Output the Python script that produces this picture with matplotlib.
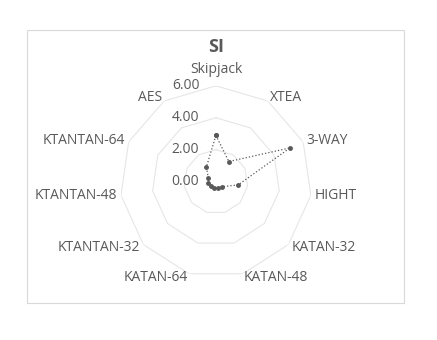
import numpy as np
import matplotlib.pyplot as plt
from matplotlib.patches import Rectangle

categories = ["Skipjack", "XTEA", "3-WAY", "HIGHT", "KATAN-32", "KATAN-48",
              "KATAN-64", "KTANTAN-32", "KTANTAN-48", "KTANTAN-64", "AES"]
si_values = [2.9, 1.5, 5.1, 1.4, 0.48, 0.39, 0.38, 0.43, 0.47, 0.52, 1.1]
ring_values = [2, 4, 6]
tick_values = [0, 2, 4, 6]

plt.rcParams['font.family'] = ['Open Sans', 'DejaVu Sans']
txt = "#595959"

fig = plt.figure(figsize=(4.37, 3.4), dpi=100)
fig.patches.append(Rectangle((27 / 437, 1 - 303 / 340), 377 / 437, 273 / 340,
                             transform=fig.transFigure, fill=False,
                             edgecolor="#d9d9d9", linewidth=0.8))

ax = fig.add_axes([0.2746, 0.183, 0.439, 0.565], projection="polar")
ax.set_theta_offset(np.pi / 2)
ax.set_theta_direction(-1)
ax.set_ylim(0, 6)
ax.grid(False)
ax.spines["polar"].set_visible(False)
ax.set_xticks([])
ax.set_yticks([])
ax.patch.set_alpha(0)

n = len(categories)
angles = np.arange(n) * 2 * np.pi / n
closed = np.append(angles, angles[0])

# polygon gridlines
for r in ring_values:
    ax.plot(closed, [r] * (n + 1), color="#e6e6e6", lw=0.8, zorder=1)

# radial value labels
for v in tick_values:
    ax.annotate(f"{v:.2f}", (0, v), xytext=(-12, 0), textcoords="offset points",
                ha="right", va="center", fontsize=10, color=txt)

# category labels
for a, name in zip(angles, categories):
    s, c = np.sin(a), np.cos(a)
    r = 6.25
    if abs(s) < 0.1:
        ha = "center"
        va = "bottom" if c > 0 else "top"
        r = 6.55
    else:
        ha = "left" if s > 0 else "right"
        va = "center"
    ax.text(a, r, name, ha=ha, va=va, fontsize=10, color=txt)

vals = np.append(si_values, si_values[0])
ax.plot(closed, vals, color="#595959", lw=0.9, ls=":", marker="o",
        markersize=2.5, zorder=3)

fig.text(216 / 437, 1 - 47 / 340, "SI", ha="center", va="center",
         fontsize=13, fontweight="bold", color=txt)

fig.savefig("out.png", dpi=100)
